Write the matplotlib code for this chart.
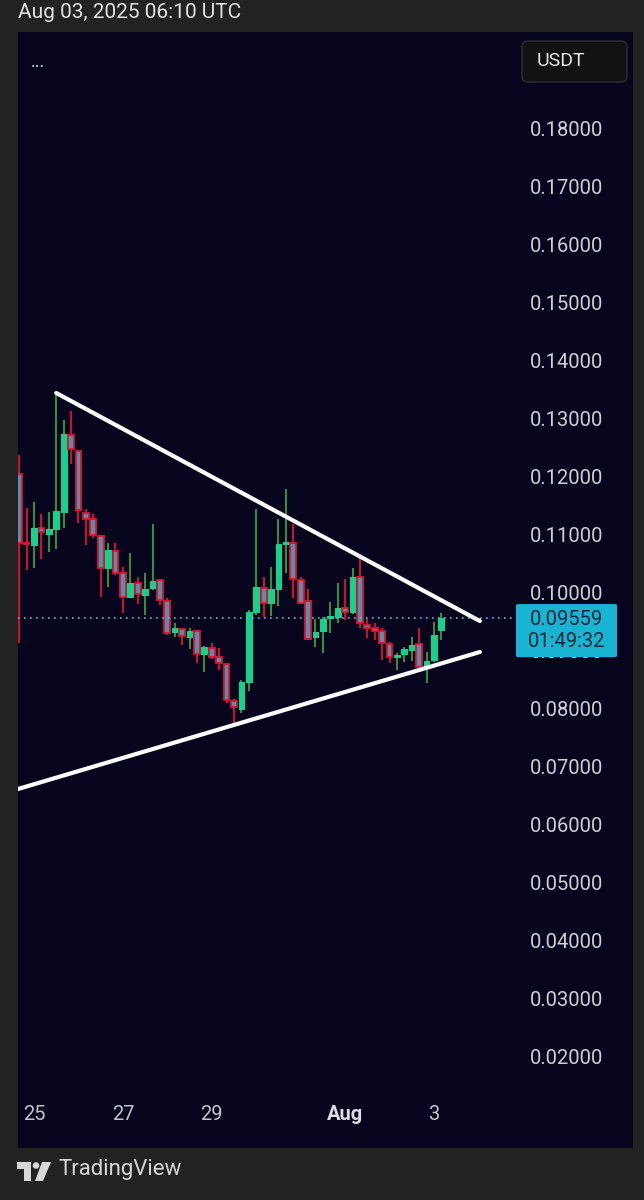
import matplotlib
matplotlib.use("Agg")
import matplotlib.pyplot as plt
from matplotlib.patches import FancyBboxPatch, Polygon, Circle
from matplotlib.transforms import Affine2D
import numpy as np

# ---------------- data (4h candles, TradingView) ----------------
opens = [0.12041, 0.10852, 0.10818, 0.11110, 0.11007, 0.11093, 0.11386, 0.12712, 0.12437, 0.11369,
         0.11265, 0.10973, 0.10421, 0.10714, 0.10335, 0.09922, 0.10163, 0.09956, 0.10077, 0.10215,
         0.09853, 0.09319, 0.09371, 0.09233, 0.09336, 0.08940, 0.09044, 0.08889, 0.08768, 0.08131,
         0.07993, 0.08458, 0.09664, 0.10077, 0.09819, 0.10060, 0.10835, 0.10852, 0.10215, 0.09853,
         0.09233, 0.09336, 0.09560, 0.09578, 0.09733, 0.09664, 0.10267, 0.09440, 0.09388, 0.09336,
         0.09112, 0.08889, 0.08940, 0.09009, 0.09112, 0.08716, 0.08837, 0.09354]
highs = [0.12368, 0.11455, 0.11558, 0.11352, 0.11386, 0.13453, 0.12971, 0.13126, 0.12454, 0.11438,
         0.11352, 0.10990, 0.10852, 0.10852, 0.10439, 0.10680, 0.10267, 0.10335, 0.11179, 0.10232,
         0.09905, 0.09474, 0.09388, 0.09388, 0.09354, 0.09078, 0.09130, 0.09044, 0.08785, 0.08165,
         0.08492, 0.09698, 0.11438, 0.10267, 0.10439, 0.11265, 0.11782, 0.11179, 0.10267, 0.10060,
         0.09543, 0.09578, 0.09836, 0.10163, 0.10232, 0.10421, 0.10594, 0.09543, 0.09474, 0.09388,
         0.09147, 0.08957, 0.09061, 0.09233, 0.09388, 0.08975, 0.09491, 0.09646]
lows = [0.09130, 0.10387, 0.10421, 0.10576, 0.10697, 0.10749, 0.11110, 0.12213, 0.11197, 0.10818,
        0.10938, 0.09922, 0.10094, 0.10301, 0.09646, 0.09905, 0.09801, 0.09612, 0.10043, 0.09784,
        0.09268, 0.09233, 0.09095, 0.09026, 0.08785, 0.08630, 0.08854, 0.08665, 0.08096, 0.07752,
        0.07924, 0.08303, 0.09612, 0.09578, 0.09595, 0.09767, 0.10335, 0.09905, 0.09801, 0.09181,
        0.09061, 0.08957, 0.09302, 0.09474, 0.09526, 0.09629, 0.09388, 0.09216, 0.09181, 0.08837,
        0.08785, 0.08665, 0.08802, 0.08820, 0.08699, 0.08441, 0.08802, 0.09181]
closes = [0.10852, 0.10835, 0.11110, 0.11042, 0.11093, 0.11403, 0.12730, 0.12471, 0.11420, 0.11265,
          0.10990, 0.10421, 0.10731, 0.10335, 0.09922, 0.10163, 0.09974, 0.10060, 0.10198, 0.09870,
          0.09302, 0.09388, 0.09250, 0.09336, 0.08940, 0.09061, 0.08889, 0.08785, 0.08148, 0.08027,
          0.08458, 0.09664, 0.10094, 0.09819, 0.10060, 0.10835, 0.10869, 0.10232, 0.09819, 0.09199,
          0.09319, 0.09543, 0.09595, 0.09733, 0.09664, 0.10267, 0.09474, 0.09388, 0.09336, 0.09130,
          0.08889, 0.08923, 0.09026, 0.09095, 0.08716, 0.08820, 0.09268, 0.09559]

price_ticks = [0.02, 0.03, 0.04, 0.05, 0.06, 0.07, 0.08, 0.09, 0.10, 0.11, 0.12, 0.13, 0.14, 0.15, 0.16, 0.17, 0.18]
time_tick_pos = [2, 14, 26, 44, 56]
time_tick_labels = ["25", "27", "29", "Aug", "3"]

# trend lines (candle index, price)
upper_x = [5.0, 62.2]
upper_y = [0.13436, 0.09508]
lower_x = [-0.16, 62.2]
lower_y = [0.06615, 0.08975]

last_price_label = "0.09559"
countdown_label = "01:49:32"
header_label = "Aug 03, 2025 06:10 UTC"
currency_label = "USDT"

# ---------------- style ----------------
W, H = 644, 1200
BG = "#222222"
PANEL = "#07041e"
BULL = "#17d18b"
BULL_WICK = "#34a044"
BEAR_FILL = "#5b8cab"
BEAR = "#e3122f"
TXT = "#cfd0d4"
FONT = ["Roboto", "DejaVu Sans"]

plt.rcParams["font.family"] = FONT

fig = plt.figure(figsize=(W / 100, H / 100), dpi=100, facecolor=BG)
PX = Affine2D().scale(1 / W, -1 / H).translate(0, 1) + fig.transFigure

pl, pr, pt, pb = 18, 633, 32, 1148
ax = fig.add_axes([pl / W, 1 - pb / H, (pr - pl) / W, (pb - pt) / H])
ax.set_facecolor(PANEL)
for s in ax.spines.values():
    s.set_visible(False)

step = 7.407
x0 = (pl - 34) / step + 2
x1 = (pr - 34) / step + 2
ax.set_xlim(x0, x1)
yslope = 1 / 5806.0
ax.set_ylim(0.18 - (pb - 128) * yslope, 0.18 + (128 - pt) * yslope)

idx = np.arange(len(opens))
o = np.array(opens); h = np.array(highs); l = np.array(lows); c = np.array(closes)
bull = c >= o
bw = 0.78
for i in idx:
    bot = min(o[i], c[i]); body = abs(c[i] - o[i]); ht = max(body, 0.0003)
    if bull[i]:
        ax.vlines(i, l[i], h[i], color=BULL_WICK, lw=1.3, zorder=2)
        ax.bar(i, ht, bottom=bot - (ht - body) / 2, width=bw, color=BULL,
               edgecolor=BULL, linewidth=0.8, zorder=3)
    else:
        ax.vlines(i, l[i], h[i], color=BEAR, lw=1.3, zorder=2)
        ax.bar(i, ht, bottom=bot - (ht - body) / 2, width=bw, color=BEAR_FILL,
               edgecolor=BEAR, linewidth=1.3, zorder=3)

# trend lines
ax.plot(upper_x, upper_y, color="white", lw=3, solid_capstyle="round", zorder=5)
ax.plot(lower_x, lower_y, color="white", lw=3, solid_capstyle="round", zorder=5)

# last price dotted line
x_end = (516 - 34) / step + 2
ax.plot([x0, x_end], [closes[-1], closes[-1]], color="#5fb6dc", lw=1.2,
        linestyle=(0, (1, 2.6)), zorder=4)

# price scale (inside panel)
ax.yaxis.tick_right()
ax.set_yticks(price_ticks)
ax.set_yticklabels([f"{v:.5f}" for v in price_ticks])
ax.tick_params(axis="y", length=0, pad=-74, labelsize=14.5, labelcolor=TXT)

# time scale (inside panel)
ax.set_xticks(time_tick_pos)
ax.set_xticklabels(time_tick_labels)
ax.tick_params(axis="x", length=0, pad=-31, labelsize=14.5, labelcolor="#c3c4c8")
for lab in ax.get_xticklabels():
    if lab.get_text() == "Aug":
        lab.set_fontweight("bold")
        lab.set_color("#dcdde0")

# last price box (x in axes fraction, y in data)
yt = ax.get_yaxis_transform()
bx0 = (516 - pl) / (pr - pl)
bx1 = (617 - pl) / (pr - pl)
btop = closes[-1] + 14 * yslope
bbot = closes[-1] - 39 * yslope
ax.add_patch(FancyBboxPatch((bx0, bbot), bx1 - bx0, btop - bbot,
                            boxstyle="round,pad=0,rounding_size=0.004",
                            transform=yt, fc="#18b4d2", ec="none", zorder=10, clip_on=False,
                            mutation_aspect=0.05))
bxc = (bx0 + bx1) / 2
ax.text(bxc, closes[-1] - 1 * yslope, last_price_label, transform=yt, ha="center", va="center",
        fontsize=14.5, color="#10283a", zorder=11)
ax.text(bxc, closes[-1] - 23 * yslope, countdown_label, transform=yt, ha="center", va="center",
        fontsize=14.5, color="#10283a", zorder=11)

# header / footer decorations
fig.text(18, 12, header_label, transform=PX, ha="left", va="center", fontsize=15, color="#e2e2e2")
fig.text(31, 62, "...", transform=PX, ha="left", va="center", fontsize=13, color="#d8d8d8")
fig.patches.append(FancyBboxPatch((522, 41), 105, 41, boxstyle="round,pad=0,rounding_size=6",
                                  transform=PX, fc="#121212", ec="#303030", lw=1))
fig.text(537, 61, currency_label, transform=PX, ha="left", va="center", fontsize=14, color="#e6e6e6")

logo_c = "#d8d8d8"
fig.patches.append(Polygon([(17, 1162), (31, 1162), (31, 1181), (24, 1181), (24, 1169), (17, 1169)],
                           closed=True, transform=PX, fc=logo_c, ec="none"))
fig.patches.append(Circle((36, 1165.5), 3.3, transform=PX, fc=logo_c, ec="none"))
fig.patches.append(Polygon([(42, 1162), (51, 1162), (43, 1181), (35, 1181)],
                           closed=True, transform=PX, fc=logo_c, ec="none"))
fig.text(58, 1170, "TradingView", transform=PX, ha="left", va="center", fontsize=16, color="#d6d6d6")

fig.savefig("out.png", dpi=100, facecolor=BG)
